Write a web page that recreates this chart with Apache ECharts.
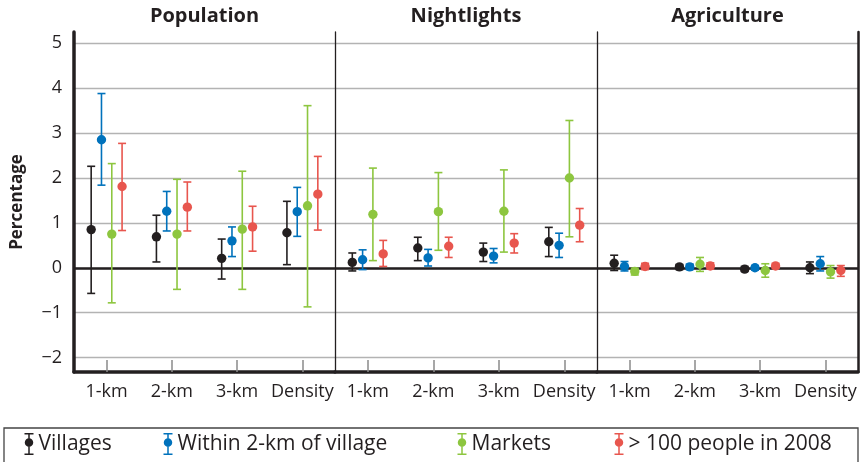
<!DOCTYPE html>
<html>
<head>
<meta charset="utf-8">
<script src="https://cdn.jsdelivr.net/npm/echarts@6/dist/echarts.min.js"></script>
<style>
  html, body { margin: 0; padding: 0; background: #fff; }
  #chart { width: 861px; height: 462px; }
</style>
</head>
<body>
<div id="chart"></div>
<script>
// categories and panels
var categories = ['1-km', '2-km', '3-km', 'Density'];
var panels = ['Population', 'Nightlights', 'Agriculture'];
var seriesNames = ['Villages', 'Within 2-km of village', 'Markets', '> 100 people in 2008'];
var colors = ['#231f20', '#0072bc', '#8dc63f', '#e8564e'];

// Population: one row per series (villages, within 2-km, markets, >100 people)
var popMean = [[0.85, 0.69, 0.21, 0.78], [2.85, 1.26, 0.60, 1.25], [0.75, 0.75, 0.86, 1.38], [1.81, 1.35, 0.91, 1.64]];
var popLow  = [[-0.57, 0.13, -0.25, 0.07], [1.84, 0.82, 0.25, 0.70], [-0.78, -0.48, -0.48, -0.87], [0.83, 0.82, 0.37, 0.84]];
var popHigh = [[2.26, 1.17, 0.64, 1.48], [3.88, 1.70, 0.91, 1.79], [2.32, 1.97, 2.15, 3.61], [2.77, 1.91, 1.37, 2.48]];

// Nightlights
var nlMean = [[0.12, 0.44, 0.35, 0.58], [0.18, 0.22, 0.26, 0.50], [1.19, 1.25, 1.26, 2.00], [0.31, 0.48, 0.55, 0.95]];
var nlLow  = [[-0.07, 0.16, 0.14, 0.25], [-0.04, 0.04, 0.11, 0.23], [0.16, 0.39, 0.35, 0.69], [0.03, 0.23, 0.33, 0.58]];
var nlHigh = [[0.33, 0.68, 0.55, 0.90], [0.40, 0.41, 0.43, 0.77], [2.22, 2.12, 2.18, 3.28], [0.61, 0.68, 0.76, 1.32]];

// Agriculture
var agMean = [[0.10, 0.02, -0.03, 0.00], [0.03, 0.02, 0.00, 0.09], [-0.08, 0.08, -0.06, -0.09], [0.03, 0.04, 0.04, -0.06]];
var agLow  = [[-0.06, -0.04, -0.08, -0.13], [-0.07, -0.04, -0.05, -0.07], [-0.16, -0.08, -0.21, -0.23], [-0.04, -0.03, -0.01, -0.19]];
var agHigh = [[0.28, 0.07, 0.03, 0.13], [0.14, 0.08, 0.05, 0.25], [-0.01, 0.23, 0.09, 0.05], [0.10, 0.11, 0.10, 0.05]];

var panelData = [[popMean, popLow, popHigh], [nlMean, nlLow, nlHigh], [agMean, agLow, agHigh]];

var font = '"Open Sans", sans-serif';
var ink = '#231f20';
var gridBoxes = [{left: 74, width: 261}, {left: 335, width: 262}, {left: 597, width: 261}];
var gridTop = 32, gridHeight = 340;
var yMin = -2.32, yMax = 5.25;

var chart = echarts.init(document.getElementById('chart'));

function makeRender(k) {
    var off = (k - 1.5) * 10.3;
    return function (params, api) {
        var c = api.coord([api.value(0), api.value(1)]);
        var lo = api.coord([api.value(0), api.value(2)]);
        var hi = api.coord([api.value(0), api.value(3)]);
        var x = c[0] + off;
        var col = api.visual('color');
        var ls = {stroke: col, lineWidth: 1.6};
        return {
            type: 'group',
            children: [
                {type: 'line', shape: {x1: x, y1: hi[1], x2: x, y2: lo[1]}, style: ls},
                {type: 'line', shape: {x1: x - 4, y1: hi[1], x2: x + 4, y2: hi[1]}, style: ls},
                {type: 'line', shape: {x1: x - 4, y1: lo[1], x2: x + 4, y2: lo[1]}, style: ls},
                {type: 'circle', shape: {cx: x, cy: c[1], r: 4.7}, style: {fill: col}}
            ]
        };
    };
}

var grids = [], xAxes = [], yAxes = [], series = [], titles = [];
panels.forEach(function (name, p) {
    var g = gridBoxes[p];
    grids.push({left: g.left, width: g.width, top: gridTop, height: gridHeight, containLabel: false});
    titles.push({
        text: name, left: g.left + g.width / 2, top: 6, textAlign: 'center', padding: 0,
        textStyle: {fontFamily: font, fontSize: 20, fontWeight: 'bold', color: ink}
    });
    xAxes.push({
        type: 'category', gridIndex: p, data: categories, boundaryGap: true,
        axisLine: {show: true, onZero: false, lineStyle: {color: ink, width: 3.5}},
        axisTick: {show: true, inside: true, alignWithLabel: true, interval: 0, length: 12, lineStyle: {color: '#8a8a8a', width: 1.5}},
        axisLabel: {interval: 0, fontFamily: font, fontSize: 18, color: ink, margin: 11},
        splitLine: {show: false}
    });
    yAxes.push({
        type: 'value', gridIndex: p, min: yMin, max: yMax, splitNumber: 8,
        name: p === 0 ? 'Percentage' : '',
        nameLocation: 'middle', nameRotate: 90, nameGap: 48,
        nameTextStyle: {fontFamily: font, fontSize: 17, fontWeight: 'bold', color: ink},
        axisLine: {show: true, lineStyle: {color: ink, width: p === 0 ? 3.5 : 1.3}},
        axisTick: {show: false},
        axisLabel: {
            show: p === 0, fontFamily: font, fontSize: 18, color: ink, margin: 12,
            showMinLabel: false, showMaxLabel: false,
            formatter: function (v) { return v < 0 ? '\u2212' + (-v) : String(v); }
        },
        splitLine: {show: true, showMinLine: false, showMaxLine: false, lineStyle: {color: '#b3b3b3', width: 1.4}}
    });
    if (p === 2) {
        yAxes.push({
            type: 'value', gridIndex: p, min: yMin, max: yMax, position: 'right',
            axisLine: {show: true, onZero: false, lineStyle: {color: ink, width: 2.5}},
            axisTick: {show: false}, axisLabel: {show: false}, splitLine: {show: false}
        });
    }
    var d = panelData[p];
    seriesNames.forEach(function (sn, k) {
        var rows = categories.map(function (cat, i) {
            return [i, d[0][k][i], d[1][k][i], d[2][k][i]];
        });
        var s = {
            type: 'custom', name: sn, xAxisIndex: p, yAxisIndex: p,
            itemStyle: {color: colors[k]},
            encode: {x: 0, y: [1, 2, 3]},
            renderItem: makeRender(k),
            data: rows, z: 3
        };
        if (k === 0) {
            s.markLine = {
                silent: true, symbol: 'none', z: 1, label: {show: false},
                lineStyle: {color: ink, width: 2.5, type: 'solid'},
                data: [{yAxis: 0}]
            };
        }
        series.push(s);
    });
});

var iconPath = 'path://M0,0H9V1.5H5.25V20.5H9V22H0V20.5H3.75V1.5H0Z M0.25,9.5A4.25,4.25 0 1,1 8.75,9.5A4.25,4.25 0 1,1 0.25,9.5Z';
var legendLeft = [24.5, 163.5, 457.5, 614.5];
var legends = seriesNames.map(function (sn, k) {
    return {
        data: [sn], left: legendLeft[k], top: 433, padding: 0,
        icon: iconPath, itemWidth: 9, itemHeight: 22, selectedMode: false,
        textStyle: {fontFamily: font, fontSize: 21, color: ink}
    };
});

chart.setOption({
    animation: false,
    backgroundColor: '#fff',
    title: titles,
    legend: legends,
    grid: grids,
    xAxis: xAxes,
    yAxis: yAxes,
    series: series,
    graphic: [{
        type: 'rect', silent: true,
        shape: {x: 4, y: 428, width: 854, height: 40},
        style: {fill: 'none', stroke: '#444', lineWidth: 1.3}
    }]
});
</script>
</body>
</html>
